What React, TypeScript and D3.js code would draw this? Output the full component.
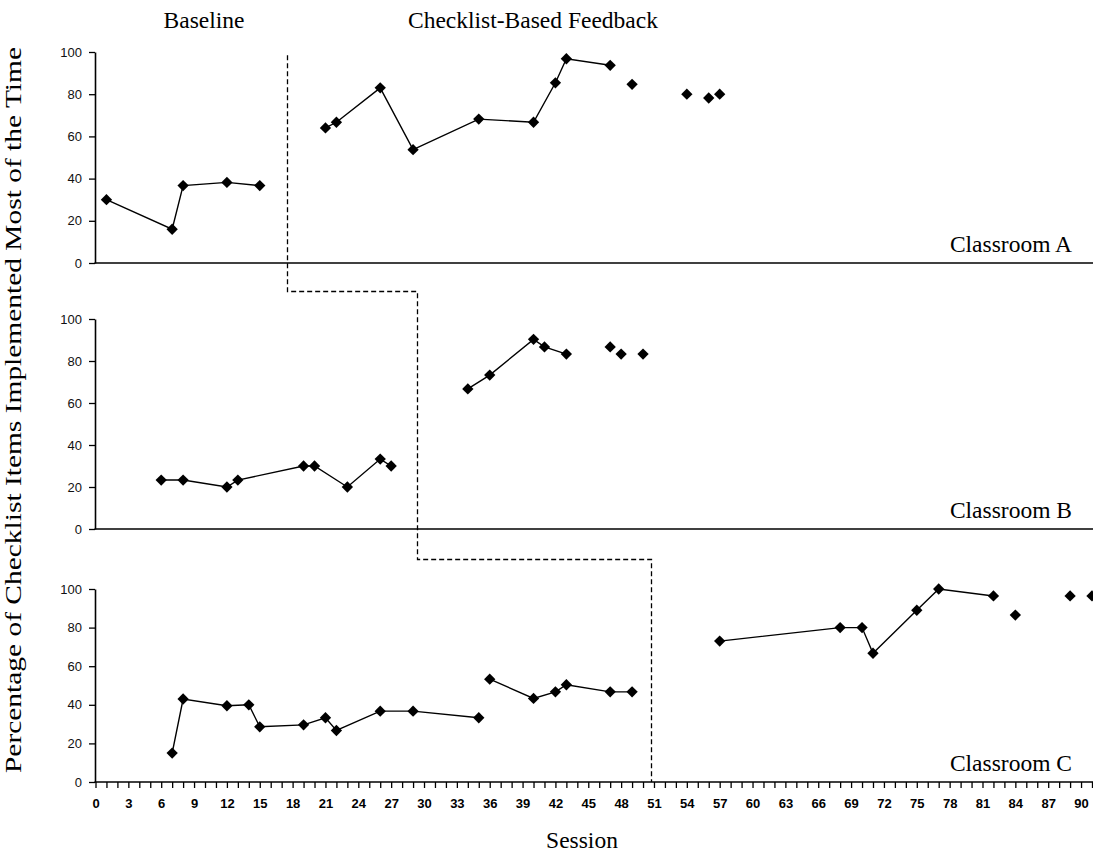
import React, { useEffect, useRef } from "react";
import * as d3 from "d3";

// sessions, percentages and run ids (-1 = point not joined to a line)
const sessionsA = [1, 7, 8, 12, 15, 21, 22, 26, 29, 35, 40, 42, 43, 47, 49, 54, 56, 57];
const valuesA = [30, 16, 36.7, 38.2, 36.7, 64, 66.7, 83, 53.7, 68.2, 66.7, 85.4, 96.8, 93.7, 84.7, 80, 78.2, 80];
const runsA = [0, 0, 0, 0, 0, 1, 1, 1, 1, 1, 1, 1, 1, 1, -1, -1, -1, -1];

const sessionsB = [6, 8, 12, 13, 19, 20, 23, 26, 27, 34, 36, 40, 41, 43, 47, 48, 50];
const valuesB = [23.3, 23.3, 20, 23.3, 30, 30, 20, 33.3, 30, 66.7, 73.3, 90.3, 86.7, 83.3, 86.7, 83.3, 83.3];
const runsB = [0, 0, 0, 0, 0, 0, 0, 0, 0, 1, 1, 1, 1, 1, -1, -1, -1];

const sessionsC = [7, 8, 12, 14, 15, 19, 21, 22, 26, 29, 35, 36, 40, 42, 43, 47, 49, 57, 68, 70, 71, 75, 77, 82, 84, 89, 91];
const valuesC = [15, 43, 39.5, 40, 28.6, 29.6, 33.3, 26.7, 36.7, 36.7, 33.3, 53.3, 43.3, 46.7, 50.4, 46.7, 46.7, 73, 80, 80, 66.7, 89, 100, 96.4, 86.5, 96.4, 96.4];
const runsC = [0, 0, 0, 0, 0, 0, 0, 0, 0, 0, 0, 1, 1, 1, 1, 1, 1, 2, 2, 2, 2, 2, 2, 2, -1, -1, -1];

const classrooms = ["Classroom A", "Classroom B", "Classroom C"];
const phaseChanges = [17.5, 29.35, 50.75];
const phaseLabels = ["Baseline", "Checklist-Based Feedback"];
const yTicks = [0, 20, 40, 60, 80, 100];

const App = () => {
  const chart = useRef<SVGSVGElement>(null);

  useEffect(() => {
    const W = 1093;
    const H = 852;
    const serif = "'Liberation Serif', 'Times New Roman', serif";
    const sans = "'Liberation Sans', Arial, sans-serif";
    const fs = 23.5;

    const svg = d3.select(chart.current);
    svg.selectAll("*").remove();
    svg.attr("width", W).attr("height", H);

    const x = d3.scaleLinear().domain([0, 91]).range([95.5, 1092]);

    const panels = [
      { s: sessionsA, v: valuesA, r: runsA, top: 52, bottom: 263 },
      { s: sessionsB, v: valuesB, r: runsB, top: 319, bottom: 529 },
      { s: sessionsC, v: valuesC, r: runsC, top: 589, bottom: 782 },
    ];
    const ys = panels.map((p) => d3.scaleLinear().domain([0, 100]).range([p.bottom, p.top]));

    const diamond = d3.symbol().type(d3.symbolSquare).size(64);

    panels.forEach((p, i) => {
      const y = ys[i];
      const g = svg.append("g");

      // y axis
      const ya = g
        .append("g")
        .attr("transform", `translate(${x(0) - 0.5},0)`)
        .call(d3.axisLeft(y).tickValues(yTicks).tickSize(6).tickSizeOuter(0).tickPadding(7));
      ya.select(".domain").attr("stroke-width", 1.6);
      ya.selectAll(".tick line").attr("stroke-width", 1.3);
      ya.selectAll("text").attr("font-family", sans).attr("font-size", 13).attr("fill", "#111");

      // x axis line
      if (i < 2) {
        g.append("line")
          .attr("x1", x(0) - 1)
          .attr("x2", W)
          .attr("y1", y(0))
          .attr("y2", y(0))
          .attr("stroke", "#000")
          .attr("stroke-width", 1.6);
      } else {
        const xa = g
          .append("g")
          .attr("transform", `translate(0,${y(0)})`)
          .call(
            d3
              .axisBottom(x)
              .tickValues(d3.range(0, 92))
              .tickSize(6)
              .tickSizeOuter(0)
              .tickPadding(11)
              .tickFormat((d: any) => (d % 3 === 0 ? String(d) : ""))
          );
        xa.select(".domain").attr("d", `M${x(0) - 1},0H${W}`).attr("stroke-width", 1.6);
        xa.selectAll(".tick line").attr("stroke-width", 1.3);
        xa.selectAll("text")
          .attr("font-family", sans)
          .attr("font-size", 13)
          .attr("font-weight", "bold")
          .attr("fill", "#000");
      }

      // connected runs
      const runIds = Array.from(new Set(p.r.filter((r) => r >= 0)));
      const line = d3
        .line<number>()
        .x((k) => x(p.s[k]))
        .y((k) => y(p.v[k]));
      runIds.forEach((rid) => {
        const idx = d3.range(p.s.length).filter((k) => p.r[k] === rid);
        g.append("path")
          .attr("d", line(idx))
          .attr("fill", "none")
          .attr("stroke", "#000")
          .attr("stroke-width", 1.4);
      });

      // markers
      g.selectAll("path.pt")
        .data(d3.range(p.s.length))
        .join("path")
        .attr("class", "pt")
        .attr("d", diamond)
        .attr("transform", (k) => `translate(${x(p.s[k])},${y(p.v[k])}) rotate(45)`)
        .attr("fill", "#000");

      // classroom label
      g.append("text")
        .attr("x", 1072)
        .attr("y", y(0) - 11)
        .attr("text-anchor", "end")
        .attr("font-family", serif)
        .attr("font-size", fs)
        .text(classrooms[i]);
    });

    // phase change line
    const step1 = (ys[0](0) + ys[1](100)) / 2;
    const step2 = (ys[1](0) + ys[2](100)) / 2;
    const px = phaseChanges.map((d) => Math.round(x(d)) + 0.5);
    svg
      .append("path")
      .attr(
        "d",
        `M${px[0]},${ys[0](98.5)}V${Math.round(step1) + 0.5}H${px[1]}V${Math.round(step2) + 0.5}H${px[2]}V${ys[2](0)}`
      )
      .attr("fill", "none")
      .attr("stroke", "#000")
      .attr("stroke-width", 1.3)
      .attr("stroke-dasharray", "5,3");

    // phase labels
    svg
      .append("text")
      .attr("x", 204)
      .attr("y", 28)
      .attr("text-anchor", "middle")
      .attr("font-family", serif)
      .attr("font-size", fs)
      .text(phaseLabels[0]);
    svg
      .append("text")
      .attr("x", 533)
      .attr("y", 28)
      .attr("text-anchor", "middle")
      .attr("font-family", serif)
      .attr("font-size", fs)
      .text(phaseLabels[1]);

    // axis titles
    svg
      .append("text")
      .attr("x", 582)
      .attr("y", 848)
      .attr("text-anchor", "middle")
      .attr("font-family", serif)
      .attr("font-size", fs)
      .text("Session");
    svg
      .append("text")
      .attr("transform", "translate(21,410) rotate(-90)")
      .attr("text-anchor", "middle")
      .attr("font-family", serif)
      .attr("font-size", fs)
      .attr("textLength", 726)
      .attr("lengthAdjust", "spacingAndGlyphs")
      .text("Percentage of Checklist Items Implemented Most of the Time");
  }, []);

  return (
    <div>
      <svg ref={chart} style={{ position: "absolute", left: 0, top: 0 }}></svg>
    </div>
  );
};

export default App;
